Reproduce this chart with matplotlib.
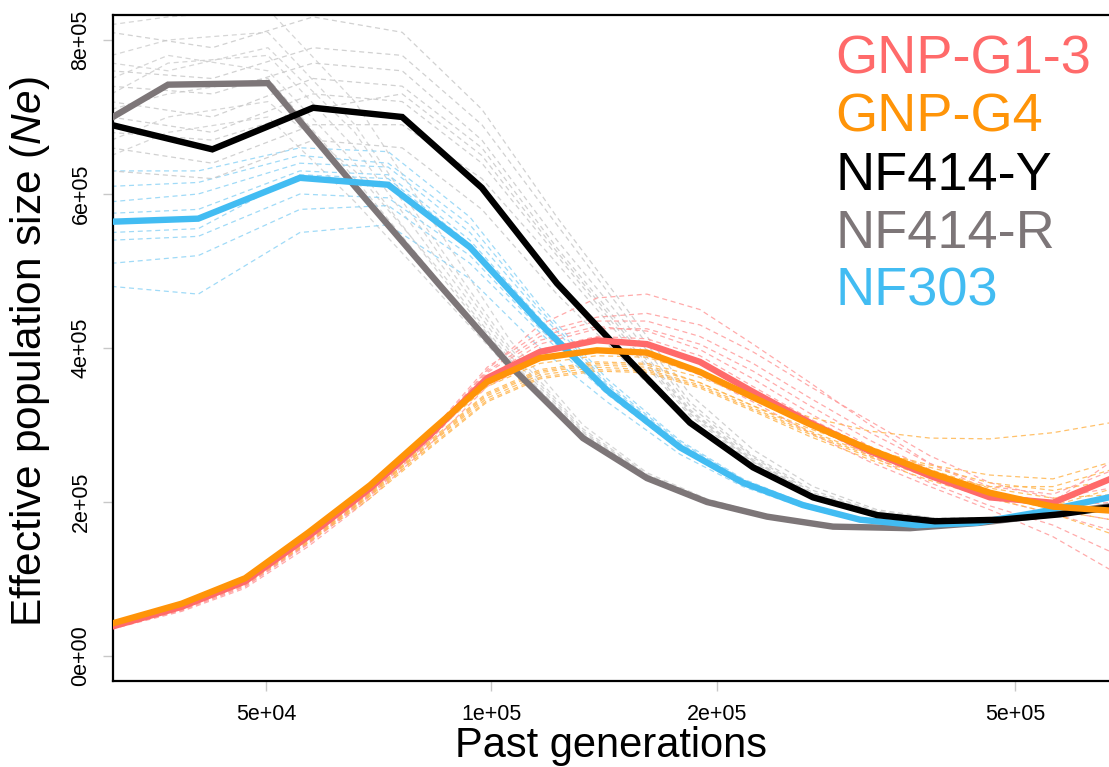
import numpy as np
import matplotlib
matplotlib.use("Agg")
import matplotlib.pyplot as plt
from matplotlib.ticker import FixedLocator, FixedFormatter, NullLocator

plt.rcParams['font.family'] = ['Liberation Sans', 'DejaVu Sans']
plt.rcParams['mathtext.fontset'] = 'custom'
plt.rcParams['mathtext.rm'] = 'Liberation Sans'
plt.rcParams['mathtext.it'] = 'Liberation Sans:italic'

# ---- time grids (past generations) ----
gen_y = [31000, 42400, 57800, 76000, 97100, 122300, 151700, 184100, 223500,
         268800, 327200, 391000, 477500, 574200, 690000]
gen_r = [31100, 37000, 50300, 65700, 85400, 105900, 132500, 161300, 194000,
         233300, 285800, 362200, 449000, 548300, 690000]
gen_b = [31100, 40600, 55500, 72800, 93600, 116100, 142700, 178500, 216700,
         260600, 310600, 370100, 444900, 540000, 690000]
gen_g = [31100, 38600, 46900, 56900, 68900, 82800, 98700, 116100, 138300,
         161300, 189800, 223500, 266300, 320300, 385100, 463000, 561900, 690000]

# ---- effective population size, in units of 1e5 ----
ne_nf414y = [6.90, 6.58, 7.12, 7.00, 6.08, 4.84, 3.87, 3.03, 2.45, 2.06, 1.83, 1.75, 1.77, 1.84, 1.95]
ne_nf414r = [6.99, 7.42, 7.44, 6.10, 4.81, 3.77, 2.83, 2.31, 2.00, 1.81, 1.68, 1.66, 1.73, 1.83, 1.96]
ne_nf303 = [5.64, 5.68, 6.21, 6.12, 5.31, 4.32, 3.45, 2.71, 2.25, 1.96, 1.77, 1.70, 1.73, 1.87, 2.09]
ne_g13 = [0.38, 0.64, 0.97, 1.55, 2.18, 2.87, 3.61, 3.95, 4.10, 4.05, 3.82, 3.43, 3.03, 2.66, 2.34, 2.06, 1.99, 2.35]
ne_g4 = [0.42, 0.68, 1.01, 1.60, 2.22, 2.91, 3.56, 3.87, 3.97, 3.94, 3.69, 3.36, 3.01, 2.68, 2.38, 2.12, 1.94, 1.88]

# ---- bootstrap replicates (units of 1e5) ----
boot_nf414y = [
    [7.6, 7.5, 7.9, 7.8, 6.9, 5.6, 4.4, 3.3, 2.6, 2.15, 1.88, 1.78, 1.78, 1.83, 1.92],
    [7.2, 7.0, 7.5, 7.4, 6.6, 5.3, 4.2, 3.2, 2.55, 2.1, 1.86, 1.77, 1.79, 1.86, 1.98],
    [6.6, 6.4, 6.9, 6.9, 6.2, 5.1, 4.05, 3.12, 2.5, 2.08, 1.84, 1.76, 1.77, 1.85, 1.96],
    [8.1, 7.9, 8.3, 8.1, 7.1, 5.7, 4.5, 3.4, 2.68, 2.2, 1.9, 1.79, 1.8, 1.86, 1.94],
    [6.3, 6.2, 6.7, 6.6, 5.8, 4.7, 3.8, 3.0, 2.42, 2.04, 1.82, 1.74, 1.76, 1.83, 1.93],
    [7.4, 7.3, 7.7, 7.6, 6.7, 5.4, 4.3, 3.25, 2.58, 2.12, 1.87, 1.77, 1.78, 1.84, 1.95],
    [7.0, 6.8, 7.3, 7.2, 6.4, 5.2, 4.1, 3.15, 2.52, 2.09, 1.85, 1.76, 1.77, 1.85, 1.97],
    [6.8, 6.7, 7.1, 7.3, 6.5, 5.25, 4.15, 3.18, 2.53, 2.1, 1.85, 1.76, 1.78, 1.84, 1.95],
]
boot_nf414r = [
    [7.8, 8.0, 8.1, 6.9, 5.3, 4.0, 2.95, 2.36, 2.03, 1.82, 1.69, 1.67, 1.73, 1.83, 1.95],
    [7.3, 7.7, 7.8, 6.6, 5.1, 3.9, 2.9, 2.34, 2.01, 1.81, 1.68, 1.66, 1.72, 1.82, 1.94],
    [6.7, 7.0, 7.2, 6.3, 5.0, 3.85, 2.88, 2.33, 2.01, 1.82, 1.69, 1.67, 1.74, 1.84, 1.97],
    [8.2, 8.3, 8.4, 7.2, 5.5, 4.1, 3.0, 2.38, 2.04, 1.83, 1.7, 1.68, 1.74, 1.83, 1.95],
    [6.5, 6.8, 7.0, 5.9, 4.7, 3.72, 2.82, 2.3, 2.0, 1.8, 1.67, 1.66, 1.73, 1.84, 1.98],
    [7.5, 7.8, 7.6, 6.4, 4.95, 3.82, 2.86, 2.32, 2.01, 1.81, 1.68, 1.67, 1.73, 1.83, 1.96],
    [7.1, 7.3, 7.5, 6.2, 4.85, 3.78, 2.84, 2.31, 2.0, 1.81, 1.68, 1.66, 1.72, 1.82, 1.95],
    [7.7, 7.6, 7.9, 6.8, 5.2, 3.95, 2.92, 2.35, 2.02, 1.82, 1.69, 1.67, 1.73, 1.83, 1.96],
]
boot_nf303 = [
    [6.3, 6.3, 6.6, 6.55, 5.7, 4.55, 3.6, 2.8, 2.3, 1.99, 1.79, 1.71, 1.74, 1.88, 2.1],
    [5.9, 6.0, 6.4, 6.35, 5.5, 4.45, 3.52, 2.76, 2.28, 1.98, 1.78, 1.71, 1.73, 1.87, 2.08],
    [5.4, 5.45, 6.0, 5.95, 5.2, 4.25, 3.42, 2.7, 2.24, 1.95, 1.76, 1.7, 1.74, 1.88, 2.11],
    [4.8, 4.7, 5.5, 5.6, 4.9, 4.0, 3.3, 2.62, 2.2, 1.93, 1.75, 1.69, 1.72, 1.85, 2.06],
    [5.1, 5.2, 5.8, 5.85, 5.1, 4.2, 3.4, 2.68, 2.23, 1.95, 1.76, 1.7, 1.73, 1.86, 2.08],
    [6.1, 6.15, 6.5, 6.4, 5.6, 4.5, 3.55, 2.78, 2.29, 1.98, 1.78, 1.71, 1.74, 1.87, 2.09],
    [5.5, 5.55, 6.25, 6.2, 5.35, 4.35, 3.47, 2.72, 2.26, 1.96, 1.77, 1.7, 1.73, 1.86, 2.07],
    [5.75, 5.8, 6.3, 6.25, 5.4, 4.38, 3.48, 2.73, 2.26, 1.97, 1.77, 1.7, 1.73, 1.87, 2.1],
]
boot_g13 = [
    [0.37, 0.62, 0.94, 1.5, 2.15, 2.9, 3.75, 4.2, 4.4, 4.45, 4.3, 3.95, 3.5, 3.05, 2.6, 2.25, 2.05, 2.2],
    [0.36, 0.6, 0.92, 1.47, 2.1, 2.82, 3.62, 4.05, 4.25, 4.25, 4.05, 3.7, 3.25, 2.8, 2.42, 2.1, 1.95, 2.0],
    [0.38, 0.63, 0.96, 1.52, 2.15, 2.85, 3.6, 3.95, 4.1, 4.05, 3.85, 3.45, 3.0, 2.6, 2.25, 1.95, 1.7, 1.3],
    [0.35, 0.58, 0.88, 1.42, 2.05, 2.75, 3.5, 3.85, 3.95, 3.9, 3.65, 3.3, 2.9, 2.52, 2.2, 1.9, 1.55, 1.05],
    [0.37, 0.61, 0.93, 1.48, 2.12, 2.9, 3.7, 4.15, 4.35, 4.35, 4.15, 3.8, 3.35, 2.9, 2.5, 2.2, 2.1, 2.45],
    [0.36, 0.59, 0.9, 1.45, 2.08, 2.8, 3.58, 3.98, 4.15, 4.12, 3.9, 3.5, 3.08, 2.7, 2.35, 2.05, 1.85, 1.6],
    [0.38, 0.62, 0.95, 1.5, 2.14, 2.88, 3.68, 4.1, 4.28, 4.22, 3.98, 3.6, 3.15, 2.72, 2.38, 2.12, 2.0, 2.6],
    [0.36, 0.6, 0.91, 1.46, 2.1, 2.85, 3.72, 4.3, 4.65, 4.7, 4.5, 4.05, 3.55, 3.0, 2.5, 2.15, 1.9, 1.75],
]
boot_g4 = [
    [0.41, 0.66, 0.98, 1.55, 2.15, 2.8, 3.42, 3.72, 3.82, 3.8, 3.62, 3.35, 3.1, 2.92, 2.83, 2.82, 2.9, 3.05],
    [0.4, 0.64, 0.95, 1.5, 2.1, 2.75, 3.35, 3.65, 3.75, 3.72, 3.52, 3.22, 2.9, 2.6, 2.35, 2.2, 2.2, 2.45],
    [0.41, 0.65, 0.97, 1.53, 2.12, 2.78, 3.4, 3.7, 3.8, 3.78, 3.55, 3.25, 2.92, 2.62, 2.35, 2.1, 1.95, 2.2],
    [0.39, 0.62, 0.93, 1.47, 2.05, 2.7, 3.3, 3.6, 3.7, 3.68, 3.48, 3.18, 2.85, 2.55, 2.28, 2.05, 1.85, 1.55],
    [0.42, 0.67, 1.0, 1.58, 2.2, 2.88, 3.52, 3.85, 3.95, 3.92, 3.7, 3.38, 3.05, 2.72, 2.42, 2.18, 2.05, 2.1],
    [0.4, 0.63, 0.94, 1.49, 2.08, 2.72, 3.32, 3.62, 3.72, 3.7, 3.5, 3.2, 2.88, 2.58, 2.32, 2.1, 1.9, 1.75],
    [0.41, 0.66, 0.99, 1.56, 2.18, 2.85, 3.5, 3.8, 3.9, 3.88, 3.66, 3.34, 3.0, 2.7, 2.45, 2.25, 2.15, 2.3],
    [0.4, 0.64, 0.96, 1.52, 2.12, 2.76, 3.38, 3.68, 3.78, 3.75, 3.55, 3.25, 2.95, 2.68, 2.48, 2.35, 2.3, 2.55],
]

labels = ["GNP-G1-3", "GNP-G4", "NF414-Y", "NF414-R", "NF303"]
colors = ["#FF6A6A", "#FF9408", "#000000", "#7D7678", "#42BCF2"]
boot_colors = ["#FF9C9C", "#FFB650", "#C9C9C9", "#CFCFCF", "#8FD4F6"]

xticks = [5e4, 1e5, 2e5, 5e5]
xticklabels = ["5e+04", "1e+05", "2e+05", "5e+05"]
yticks = [0, 2e5, 4e5, 6e5, 8e5]
yticklabels = ["0e+00", "2e+05", "4e+05", "6e+05", "8e+05"]

SCALE = 1e5

W, H = 1109, 767
fig = plt.figure(figsize=(W / 100, H / 100), dpi=100)
ax = fig.add_axes([113 / W, 1 - 681 / H, 1 - 113 / W, (681 - 15) / H])
ax.set_xscale("log")

# draw order: each group's replicates first, then its own estimate
groups = [
    (gen_r, boot_nf414r, ne_nf414r, 3),
    (gen_b, boot_nf303, ne_nf303, 4),
    (gen_y, boot_nf414y, ne_nf414y, 2),
    (gen_g, boot_g13, ne_g13, 0),
    (gen_g, boot_g4, ne_g4, 1),
]
for gen, boots, main, ci in groups:
    for rep in boots:
        ax.plot(gen, np.array(rep) * SCALE, color=boot_colors[ci], lw=0.9,
                ls=(0, (4, 3)), alpha=0.85, zorder=2)
    ax.plot(gen, np.array(main) * SCALE, color=colors[ci], lw=4.6,
            solid_joinstyle="miter", zorder=3)

ax.set_xlim(31240, 667700)
ax.set_ylim(-32470, 832470)

ax.xaxis.set_major_locator(FixedLocator(xticks))
ax.xaxis.set_major_formatter(FixedFormatter(xticklabels))
ax.xaxis.set_minor_locator(NullLocator())
ax.yaxis.set_major_locator(FixedLocator(yticks))
ax.yaxis.set_major_formatter(FixedFormatter(yticklabels))

ax.tick_params(axis="both", which="major", length=7.5, width=1.0,
               color="#C8C8C8", labelsize=15.5, labelcolor="black")
ax.tick_params(axis="x", pad=9)
ax.tick_params(axis="y", pad=8)
for lab in ax.get_yticklabels():
    lab.set_rotation(90)
    lab.set_va("center")

for side in ("left", "bottom", "top"):
    ax.spines[side].set_linewidth(1.6)
    ax.spines[side].set_color("black")
ax.spines["right"].set_visible(False)

fig.text(611 / W, 1 - 757 / H, "Past generations", fontsize=30,
         ha="center", va="baseline")
fig.text(30 / W, 1 - 352 / H, r"Effective population size ($\mathit{Ne}$)",
         fontsize=30.5, rotation=90, ha="center", va="center")

baselines = [73, 132, 190, 248, 306]
for lab, col, yb in zip(labels, colors, baselines):
    fig.text(835 / W, 1 - yb / H, lab, color=col, fontsize=39,
             ha="left", va="baseline")

fig.savefig("out.png", dpi=100)
